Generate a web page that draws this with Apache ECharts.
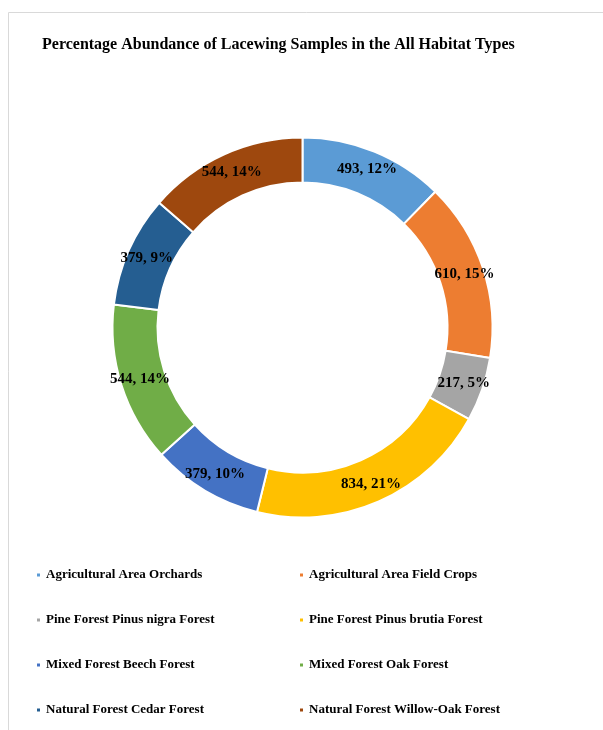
<!DOCTYPE html>
<html>
<head>
<meta charset="utf-8">
<script src="https://cdn.jsdelivr.net/npm/echarts@6/dist/echarts.min.js"></script>
<style>
  html, body { margin: 0; padding: 0; background: #fff; }
  #main { width: 603px; height: 730px; }
</style>
</head>
<body>
<div id="main"></div>
<script>
// habitat categories and sample counts
const habitats = [
  'Agricultural Area Orchards',
  'Agricultural Area Field Crops',
  'Pine Forest Pinus nigra Forest',
  'Pine Forest Pinus brutia Forest',
  'Mixed Forest Beech Forest',
  'Mixed Forest Oak Forest',
  'Natural Forest Cedar Forest',
  'Natural Forest Willow-Oak Forest'
];
const samples = [493, 610, 217, 834, 379, 544, 379, 544];
const colors = ['#5B9BD5', '#ED7D31', '#A5A5A5', '#FFC000', '#4472C4', '#70AD47', '#255E91', '#9E480E'];

const serif = '"Liberation Serif", "Times New Roman", serif';
const chart = echarts.init(document.getElementById('main'));

const legendText = { fontFamily: serif, fontWeight: 'bold', fontSize: 13, color: '#000', lineHeight: 16 };
const legendBase = {
  orient: 'vertical',
  top: 567,
  padding: 0,
  itemWidth: 5,
  itemHeight: 5,
  itemGap: 29,
  icon: 'rect',
  textStyle: legendText,
  selectedMode: false
};

chart.setOption({
  color: colors,
  title: {
    text: 'Percentage Abundance of Lacewing Samples in the All Habitat Types',
    left: 37,
    top: 32,
    textStyle: { fontFamily: serif, fontWeight: 'bold', fontSize: 16, color: '#000' }
  },
  graphic: [{
    type: 'rect',
    shape: { x: 8.5, y: 12.5, width: 620, height: 740 },
    style: { fill: null, stroke: '#d9d9d9', lineWidth: 1 },
    silent: true
  }],
  legend: [
    Object.assign({}, legendBase, { left: 35, data: habitats.filter((_, i) => i % 2 === 0) }),
    Object.assign({}, legendBase, { left: 298, data: habitats.filter((_, i) => i % 2 === 1) })
  ],
  series: [{
    type: 'pie',
    center: [302.5, 327.5],
    radius: [145, 190],
    startAngle: 90,
    clockwise: true,
    percentPrecision: 0,
    avoidLabelOverlap: false,
    itemStyle: { borderColor: '#fff', borderWidth: 2 },
    label: {
      show: true,
      position: 'inside',
      formatter: '{c}, {d}%',
      fontFamily: serif,
      fontWeight: 'bold',
      fontSize: 15,
      color: '#000'
    },
    labelLine: { show: false },
    emphasis: { disabled: true },
    data: habitats.map((name, i) => ({ name: name, value: samples[i] }))
  }]
});
</script>
</body>
</html>
